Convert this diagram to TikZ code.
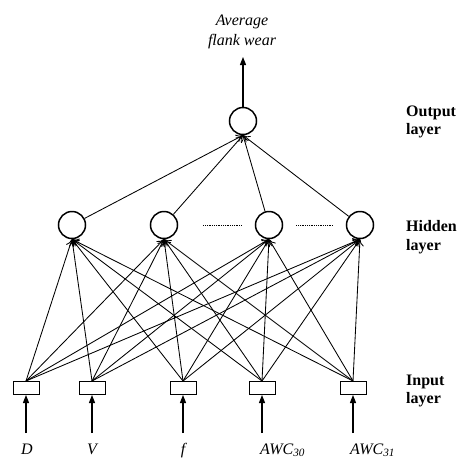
\documentclass[tikz,border=0pt]{standalone}
\usepackage{fontspec}
\setmainfont{Liberation Serif}
\usepackage{tikz}
\usetikzlibrary{arrows.meta, positioning}

\begin{document}
\begin{tikzpicture}[
  x=1pt, y=-1pt,
  neuron/.style={draw, circle, line width=1.5pt, minimum size=27pt, inner sep=0pt},
  inbox/.style={draw, rectangle, line width=1pt, minimum width=26pt, minimum height=13pt, inner sep=0pt},
  conn/.style={-{To[length=7pt,width=8pt]}, line width=0.85pt},
  feed/.style={-{Triangle[length=8pt,width=6pt]}, line width=1.2pt},
  lbl/.style={font=\fontsize{16}{20}\selectfont\itshape, inner sep=0pt},
  layer/.style={font=\fontsize{16}{18.5}\selectfont\bfseries, align=left, anchor=west, inner sep=0pt},
  dots/.style={line width=0.6pt, dash pattern=on 0.6pt off 1.2pt}
]
\useasboundingbox (0,0) rectangle (461,459);

% ----- Output layer -----
\node[neuron] (out) at (243,121) {};
\node[lbl, align=center] (avg) at (242,32) {Average\\flank wear};
\coordinate (outtip) at (243,57);

% ----- Hidden layer -----
\node[neuron] (h1) at (72,225) {};
\node[neuron] (h2) at (164,225) {};
\node[neuron] (h3) at (269,225) {};
\node[neuron] (h4) at (360,225) {};

% ----- Input layer -----
\node[inbox] (d)   at (26,388)  {};
\node[inbox] (v)   at (92,388)  {};
\node[inbox] (f)   at (183,388) {};
\node[inbox] (a30) at (262,388) {};
\node[inbox] (a31) at (353,388) {};

% ----- Input labels -----
\node[lbl, anchor=base] (d-lbl) at (27,454) {D};
\node[lbl, anchor=base] (v-lbl) at (92,454) {V};
\node[lbl, anchor=base] (f-lbl) at (183,454) {f};
\node[lbl, anchor=base west] (a30-lbl) at (260,454) {AWC\textsubscript{30}};
\node[lbl, anchor=base west] (a31-lbl) at (350,454) {AWC\textsubscript{31}};
\coordinate (d-in)   at (26,433);
\coordinate (v-in)   at (92,433);
\coordinate (f-in)   at (183,433);
\coordinate (a30-in) at (262,433);
\coordinate (a31-in) at (353,433);

% ----- Layer names -----
\node[layer] (out-name) at (406,122) {Output\\layer};
\node[layer] (hid-name) at (406,237) {Hidden\\layer};
\node[layer] (in-name)  at (406,391) {Input\\layer};

% ----- Feeds -----
\draw[feed] (out.north) -- (outtip);
\draw[feed] (d-in) -- (d.south);
\draw[feed] (v-in) -- (v.south);
\draw[feed] (f-in) -- (f.south);
\draw[feed] (a30-in) -- (a30.south);
\draw[feed] (a31-in) -- (a31.south);

% ----- Input to hidden -----
\draw (d.north) edge[conn] (h1.south) edge[conn] (h2.south) edge[conn] (h3.south) edge[conn] (h4.south);
\draw (v.north) edge[conn] (h1.south) edge[conn] (h2.south) edge[conn] (h3.south) edge[conn] (h4.south);
\draw (f.north) edge[conn] (h1.south) edge[conn] (h2.south) edge[conn] (h3.south) edge[conn] (h4.south);
\draw (a30.north) edge[conn] (h1.south) edge[conn] (h2.south) edge[conn] (h3.south) edge[conn] (h4.south);
\draw (a31.north) edge[conn] (h1.south) edge[conn] (h2.south) edge[conn] (h3.south) edge[conn] (h4.south);

% ----- Hidden to output -----
\draw[conn] (h1) -- (out.south);
\draw[conn] (h2) -- (out.south);
\draw[conn] (h3) -- (out.south);
\draw[conn] (h4) -- (out.south);

% ----- Omitted hidden neurons -----
\draw[dots, shorten <=25pt, shorten >=13pt] (h2.east) -- (h3.west);
\draw[dots, shorten <=13pt, shorten >=13pt] (h3.east) -- (h4.west);

\end{tikzpicture}
\end{document}
